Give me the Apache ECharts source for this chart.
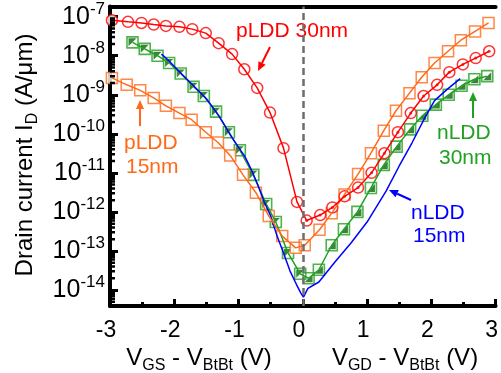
<!DOCTYPE html>
<html><head><meta charset="utf-8">
<script src="https://cdn.jsdelivr.net/npm/echarts@6/dist/echarts.min.js"></script>
<style>html,body{margin:0;padding:0;background:#fff}#c{width:501px;height:373px}</style>
</head><body><div id="c"></div>
<script>
// ---- data ----
// pLDD 30nm (red, circles)
const pLDD30_x = [-2.97,-2.72,-2.51,-2.32,-2.13,-1.92,-1.72,-1.51,-1.31,-1.10,-0.91,-0.71,-0.51,-0.30,-0.09,0.06,0.27,0.46,0.65,0.86,1.07,1.27,1.48,1.68,1.88,2.09,2.28,2.49,2.69,2.90];
const pLDD30_I = [8.1e-8,7.4e-8,6.9e-8,6.3e-8,5.8e-8,5.5e-8,4.8e-8,3.8e-8,2.1e-8,1.1e-8,4.5e-9,1.5e-9,3.5e-10,4.3e-11,1.8e-12,6.0e-13,8.3e-13,1.3e-12,2.5e-12,4.2e-12,1.0e-11,3.2e-11,1.1e-10,3.4e-10,9.3e-10,1.8e-9,3.8e-9,6.0e-9,8.7e-9,1.3e-8];
// pLDD 15nm (orange, squares)
const pLDD15_x = [-2.97,-2.74,-2.53,-2.32,-2.13,-1.92,-1.73,-1.51,-1.32,-1.13,-0.93,-0.73,-0.53,-0.32,-0.11,0.03,0.26,0.45,0.65,0.86,1.06,1.26,1.45,1.66,1.85,2.05,2.26,2.46,2.68,2.89];
const pLDD15_I = [2.7e-9,1.8e-9,1.3e-9,8.3e-10,5.2e-10,3.4e-10,2.3e-10,1.1e-10,6.0e-11,2.8e-11,8.9e-12,3.1e-12,7.9e-13,2.4e-13,1.2e-13,1.4e-13,3.5e-13,9.3e-13,2.8e-12,9.3e-12,3.2e-11,1.2e-10,3.9e-10,1.1e-9,2.8e-9,6.5e-9,1.3e-8,2.5e-8,4.2e-8,6.9e-8];
// nLDD 30nm (green, half-filled squares)
const nLDD30_x = [-2.65,-2.46,-2.26,-2.08,-1.90,-1.70,-1.54,-1.35,-1.15,-0.98,-0.77,-0.57,-0.42,-0.23,-0.04,0.09,0.25,0.45,0.64,0.85,1.06,1.26,1.46,1.67,1.86,2.07,2.27,2.47,2.67,2.87];
const nLDD30_I = [2.2e-8,1.5e-8,1.0e-8,6.5e-9,3.5e-9,1.6e-9,9.3e-10,3.7e-10,1.1e-10,3.8e-11,8.9e-12,1.6e-12,5.5e-13,8.9e-14,2.6e-14,2.0e-14,3.3e-14,1.4e-13,3.6e-13,1.0e-12,4.1e-12,1.6e-11,4.7e-11,1.3e-10,2.9e-10,5.6e-10,1.0e-9,1.7e-9,2.5e-9,3.0e-9];
// nLDD 15nm (blue, line only)
const nLDD15_x = [-2.2,-2.1,-1.9,-1.7,-1.5,-1.3,-1.1,-0.9,-0.8,-0.7,-0.6,-0.5,-0.4,-0.3,-0.2,-0.1,-0.03,0.01,0.08,0.25,0.5,0.75,1.0,1.3,1.5,1.7,1.9,2.05,2.25,2.45];
const nLDD15_I = [1.1e-8,7.9e-9,3.6e-9,1.7e-9,7.9e-10,2.8e-10,7.9e-11,2.6e-11,1.2e-11,4.9e-12,1.8e-12,7.9e-13,2.4e-13,8.9e-14,3.1e-14,1.4e-14,8.3e-15,6.6e-15,1.1e-14,1.6e-14,5.2e-14,1.6e-13,5.5e-13,3.5e-12,1.5e-11,5.9e-11,2.6e-10,7.1e-10,1.4e-9,2.6e-9];
// axes
const xTicks = [-3,-2,-1,0,1,2,3];
const yDecades = [-14,-13,-12,-11,-10,-9,-8,-7];

const pair = (xs, ys) => xs.map((x, i) => [x, ys[i]]);
const red = pair(pLDD30_x, pLDD30_I), orange = pair(pLDD15_x, pLDD15_I),
      green = pair(nLDD30_x, nLDD30_I), blue = pair(nLDD15_x, nLDD15_I);
const left = d => d.filter(p => p[0] < 0), right = d => d.filter(p => p[0] >= 0);

const C = {red:'#ff0000', orange:'#ff6a1a', green:'#22a022', dgreen:'#0a660a', blue:'#0000ff', text:'#000'};
const FONT = 'Liberation Sans, Arial, sans-serif';

// minor ticks of the log axis (2..9 x 10^n)
const yMinorTicks = [];
yDecades.concat([-15]).forEach(n => { for (let k = 2; k <= 9; k++) yMinorTicks.push([-3, k * Math.pow(10, n)]); });

const triUL = 'path://M0,0L10,0L0,10Z';
const triLR = 'path://M10,0L10,10L0,10Z';

function arrow(x1, y1, x2, y2, color) {
  const dx = x2 - x1, dy = y2 - y1, L = Math.hypot(dx, dy), ux = dx / L, uy = dy / L;
  const hl = 9, hw = 4;
  const bx = x2 - ux * hl, by = y2 - uy * hl;
  return [
    {type:'line', shape:{x1, y1, x2:bx, y2:by}, style:{stroke:color, lineWidth:2}, silent:true},
    {type:'polygon', shape:{points:[[x2, y2],[bx - uy * hw, by + ux * hw],[bx + uy * hw, by - ux * hw]]}, style:{fill:color}, silent:true}
  ];
}
function label(x, y, text, color) {
  return {type:'text', x, y, silent:true,
    style:{text, fill:color, font:'21px ' + FONT, textAlign:'left', textVerticalAlign:'middle', align:'left', verticalAlign:'middle'}};
}
const titleRich = {
  m:{fontSize:24, fontFamily:FONT, fill:'#000', color:'#000'},
  d:{fontSize:16, fontFamily:FONT, fill:'#000', color:'#000', padding:[16,0,0,0]}
};
function title(x, y, text, rot) {
  return {type:'text', x, y, rotation:rot || 0, silent:true,
    style:{text, rich:titleRich, textAlign:'center', textVerticalAlign:'middle', align:'center', verticalAlign:'middle'}};
}

const chart = echarts.init(document.getElementById('c'), null, {renderer:'canvas'});
const option = {
  animation:false,
  backgroundColor:'#fff',
  grid:{left:110, right:1, top:6.5, bottom:67, containLabel:false},
  xAxis:[{
    type:'value', min:xTicks[0], max:xTicks[xTicks.length-1], interval:1,
    axisLine:{show:true, onZero:false, lineStyle:{color:'#000', width:4}},
    axisTick:{show:true, inside:true, length:7, lineStyle:{color:'#000', width:3}},
    minorTick:{show:true, splitNumber:2, length:4, lineStyle:{color:'#000', width:3}},
    splitLine:{show:false},
    axisLabel:{margin:13, fontSize:23, fontFamily:FONT, color:'#000', padding:[0,8,0,0]}
  },{
    type:'value', position:'top', min:-3, max:3,
    axisLine:{show:true, onZero:false, lineStyle:{color:'#000', width:4}},
    axisTick:{show:false}, axisLabel:{show:false}, splitLine:{show:false}
  }],
  yAxis:{
    type:'log', logBase:10, min:Math.pow(10,-14.41), max:Math.pow(10,-6.739),
    axisLine:{show:true, onZero:false, lineStyle:{color:'#000', width:4}},
    axisTick:{show:true, inside:true, length:8, lineStyle:{color:'#000', width:3}},
    splitLine:{show:false},
    axisLabel:{
      margin:5, showMinLabel:false, showMaxLabel:false,
      formatter: v => { const e = Math.log10(v), r = Math.round(e);
        return (Math.abs(e - r) < 0.01 && yDecades.indexOf(r) >= 0) ? '{b|10}{s|' + r + '}' : ''; },
      rich:{
        b:{fontSize:25, fontFamily:FONT, color:'#000'},
        s:{fontSize:17, fontFamily:FONT, color:'#000', padding:[0,0,15,0]}
      }
    }
  },
  series:[
    {type:'custom', silent:true, data:yMinorTicks, clip:true, z:5,
     renderItem:(params, api) => { const p = api.coord([xTicks[0], api.value(1)]);
       return {type:'line', shape:{x1:p[0], y1:p[1], x2:p[0] + 5, y2:p[1]}, style:{stroke:'#000', lineWidth:2.5}}; }},
    {type:'line', data:green, symbol:'none', lineStyle:{color:C.green, width:1.5}, silent:true,
     markLine:{silent:true, symbol:'none', label:{show:false}, data:[{xAxis:0}], lineStyle:{color:'#6e6e6e', width:2.5, type:[7,4]}}},
    {type:'line', data:blue, symbol:'none', lineStyle:{color:C.blue, width:1.5}, silent:true},
    {type:'scatter', data:left(green), symbol:'rect', symbolSize:11, itemStyle:{color:'#fff', borderColor:C.green, borderWidth:1.6}, silent:true},
    {type:'scatter', data:right(green), symbol:'rect', symbolSize:11, itemStyle:{color:'rgba(0,0,0,0)', borderColor:C.green, borderWidth:1.6}, silent:true},
    {type:'scatter', data:left(green), symbol:triUL, symbolSize:8, itemStyle:{color:C.dgreen}, silent:true},
    {type:'scatter', data:right(green), symbol:triLR, symbolSize:8, itemStyle:{color:C.dgreen}, silent:true},
    {type:'line', data:orange, symbol:'none', lineStyle:{color:C.orange, width:1.5}, silent:true},
    {type:'scatter', data:left(orange), symbol:'rect', symbolSize:11, itemStyle:{color:'#fff', borderColor:C.orange, borderWidth:1.5}, silent:true},
    {type:'scatter', data:right(orange), symbol:'rect', symbolSize:11, itemStyle:{color:'rgba(0,0,0,0)', borderColor:C.orange, borderWidth:1.5}, silent:true},
    {type:'line', data:red, symbol:'none', lineStyle:{color:C.red, width:1.5}, silent:true},
    {type:'scatter', data:left(red), symbol:'circle', symbolSize:11, itemStyle:{color:'#fff', borderColor:C.red, borderWidth:1.5}, silent:true},
    {type:'scatter', data:right(red), symbol:'circle', symbolSize:11, itemStyle:{color:'#fff', borderColor:C.red, borderWidth:1.5}, silent:true},
    {type:'scatter', data:right(red), symbol:'circle', symbolSize:3, itemStyle:{color:C.red}, silent:true}
  ],
  graphic:[].concat(
    arrow(270, 47, 258, 71, C.red),
    arrow(140, 126, 140, 100, C.orange),
    arrow(473, 118, 473, 92, C.green),
    arrow(411, 200, 389, 190, C.blue),
    [
      label(236, 31, 'pLDD 30nm', C.red),
      label(124, 143, 'pLDD', C.orange),
      label(126, 167, '15nm', C.orange),
      label(437, 133, 'nLDD', C.green),
      label(439, 158, '30nm', C.green),
      label(411, 213, 'nLDD', C.blue),
      label(413, 236, '15nm', C.blue),
      title(25, 155, '{m|Drain current I}{d|D}{m| (A/μm)}', Math.PI / 2),
      title(199, 358, '{m|V}{d|GS}{m| - V}{d|BtBt}{m| (V)}'),
      title(405, 358, '{m|V}{d|GD}{m| - V}{d|BtBt}{m| (V)}')
    ]
  )
};
chart.setOption(option);
</script>
</body></html>
